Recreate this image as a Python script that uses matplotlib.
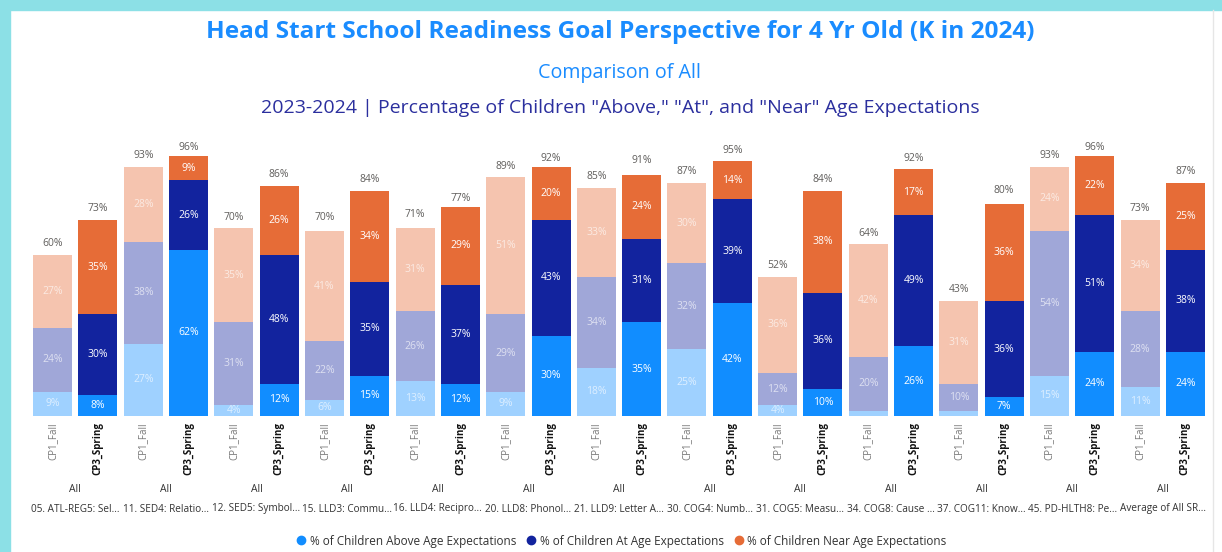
import matplotlib.pyplot as plt
from matplotlib.lines import Line2D
from matplotlib.patches import Rectangle
import matplotlib.transforms as mtransforms

plt.rcParams['font.family'] = ['Open Sans', 'DejaVu Sans']

# dados
groups = ["05. ATL-REG5: Sel...", "11. SED4: Relatio...", "12. SED5: Symbol...",
          "15. LLD3: Commu...", "16. LLD4: Recipro...", "20. LLD8: Phonol...",
          "21. LLD9: Letter A...", "30. COG4: Numb...", "31. COG5: Measu...",
          "34. COG8: Cause ...", "37. COG11: Know...", "45. PD-HLTH8: Pe...",
          "Average of All SR..."]
periods = ["CP1_Fall", "CP3_Spring"]

fall_above = [9, 27, 4, 6, 13, 9, 18, 25, 4, 2, 2, 15, 11]
fall_at = [24, 38, 31, 22, 26, 29, 34, 32, 12, 20, 10, 54, 28]
fall_near = [27, 28, 35, 41, 31, 51, 33, 30, 36, 42, 31, 24, 34]
fall_total = [60, 93, 70, 70, 71, 89, 85, 87, 52, 64, 43, 93, 73]

spring_above = [8, 62, 12, 15, 12, 30, 35, 42, 10, 26, 7, 24, 24]
spring_at = [30, 26, 48, 35, 37, 43, 31, 39, 36, 49, 36, 51, 38]
spring_near = [35, 9, 26, 34, 29, 20, 24, 14, 38, 17, 36, 22, 25]
spring_total = [73, 96, 86, 84, 77, 92, 91, 95, 84, 92, 80, 96, 87]

c_above = "#118DFF"
c_at = "#12239E"
c_near = "#E66C37"

fig = plt.figure(figsize=(12.22, 5.52), dpi=100)

# bordas
fig.patches.append(Rectangle((0, 0), 10 / 1222, 1, transform=fig.transFigure, color="#8CE0E6", zorder=0))
fig.patches.append(Rectangle((0, 1 - 10 / 552), 1, 10 / 552, transform=fig.transFigure, color="#8CE0E6", zorder=0))
fig.lines.append(Line2D([1213 / 1222, 1213 / 1222], [0, 1 - 10 / 552], transform=fig.transFigure, color="#e6e6e6", lw=1))

ax = fig.add_axes([30 / 1222, 136 / 552, 1178 / 1222, 268 / 552])

w = 0.86
for i in range(len(groups)):
    for j, (ab, at, nr, tot) in enumerate([(fall_above[i], fall_at[i], fall_near[i], fall_total[i]),
                                             (spring_above[i], spring_at[i], spring_near[i], spring_total[i])]):
        x = 2 * i + j
        a = 0.4 if j == 0 else 1.0
        ax.bar(x, ab, w, color=c_above, alpha=a, lw=0)
        ax.bar(x, at, w, bottom=ab, color=c_at, alpha=a, lw=0)
        ax.bar(x, nr, w, bottom=ab + at, color=c_near, alpha=a, lw=0)
        base = 0
        for v in (ab, at, nr):
            if v >= 4:
                ax.text(x, base + v / 2, f"{v}%", ha="center", va="center", color="white",
                        fontsize=7.5, alpha=0.65 if j == 0 else 1.0)
            base += v
        ax.text(x, tot + 2.2, f"{tot}%", ha="center", va="bottom", color="#605E5C", fontsize=7.5)

ax.set_xlim(-0.5, 2 * len(groups) - 0.5)
ax.set_ylim(0, 100)
ax.axis("off")

# rótulos do eixo x
trans = mtransforms.blended_transform_factory(ax.transData, fig.transFigure)
for i, g in enumerate(groups):
    for j, p in enumerate(periods):
        ax.text(2 * i + j, 1 - 422 / 552, p, rotation=90, ha="center", va="top", transform=trans,
                fontsize=7, color="#777777" if j == 0 else "#111111",
                fontweight="normal" if j == 0 else "bold")
    ax.text(2 * i + 0.5, 1 - 490 / 552, "All", ha="center", va="center", transform=trans,
            fontsize=7.5, color="#333333")
    ax.text(2 * i + 0.5, 1 - 509 / 552, g, ha="center", va="center", transform=trans,
            fontsize=7.2, color="#333333")

# títulos
fig.text(620 / 1222, 1 - 32 / 552, "Head Start School Readiness Goal Perspective for 4 Yr Old (K in 2024)",
         ha="center", va="center", fontsize=17.6, fontweight="bold", color="#1A8CFF")
fig.text(620 / 1222, 1 - 73 / 552, "Comparison of All", ha="center", va="center",
         fontsize=14.2, color="#1A8CFF")
fig.text(620 / 1222, 1 - 108 / 552,
         '2023-2024 | Percentage of Children "Above," "At", and "Near" Age Expectations',
         ha="center", va="center", fontsize=14, color="#2B2F9E")

# legenda
handles = [Line2D([], [], marker="o", ls="", color=c, markersize=6) for c in (c_above, c_at, c_near)]
labels = ["% of Children Above Age Expectations", "% of Children At Age Expectations",
          "% of Children Near Age Expectations"]
fig.legend(handles, labels, loc="center", bbox_to_anchor=(618 / 1222, 1 - 541 / 552), ncol=3,
           frameon=False, fontsize=8.5, handletextpad=-0.3, columnspacing=0.3, labelcolor="#333333")

fig.savefig("out.png", dpi=100)
